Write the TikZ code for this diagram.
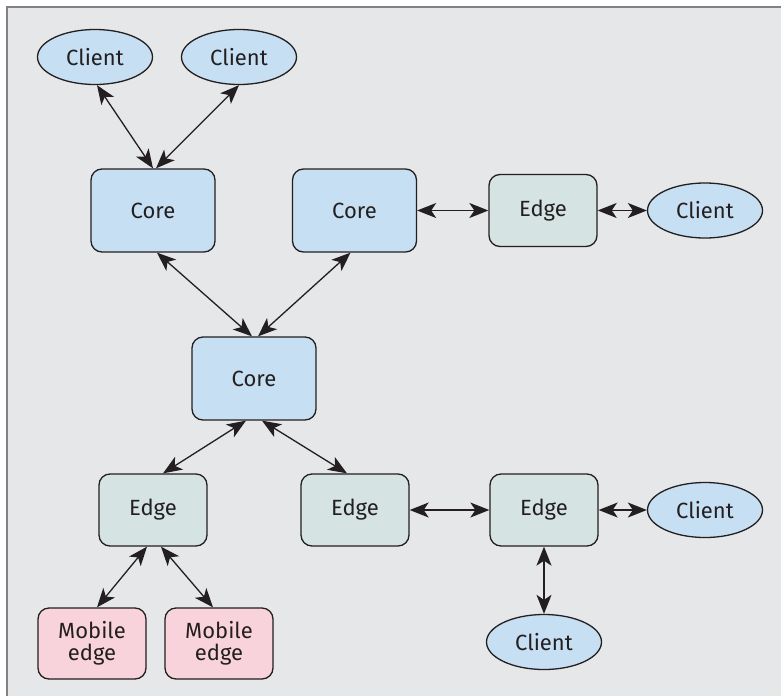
\documentclass[tikz,border=0pt]{standalone}
\usepackage{fontspec}
\setmainfont{Fira Sans}
\usetikzlibrary{shapes.geometric,arrows.meta}
\definecolor{bgray}{HTML}{E6E7E9}
\definecolor{framegray}{HTML}{808285}
\definecolor{ink}{HTML}{231F20}
\definecolor{coreblue}{HTML}{C7DFF3}
\definecolor{edgegreen}{HTML}{D5E4E2}
\definecolor{mobpink}{HTML}{F9D3DB}
\tikzset{
  base/.style={draw=ink, line width=1.3pt, text=ink, font=\fontsize{22}{22}\selectfont,
    inner sep=0pt, align=center},
  corebox/.style={base, rectangle, rounded corners=11pt, fill=coreblue,
    minimum width=124pt, minimum height=83pt},
  edgebox/.style={base, rectangle, rounded corners=11pt, fill=edgegreen,
    minimum width=108pt, minimum height=72pt},
  mobbox/.style={base, rectangle, rounded corners=11pt, fill=mobpink,
    minimum width=108pt, minimum height=71pt},
  client/.style={base, ellipse, fill=coreblue, minimum width=115pt, minimum height=55pt},
  link/.style={draw=ink, line width=1.3pt,
    {Stealth[length=19pt,width=15pt,inset=5pt]}-{Stealth[length=19pt,width=15pt,inset=5pt]}}
}
\begin{document}
\begin{tikzpicture}[x=1pt,y=-1pt]
  \useasboundingbox (0,0) rectangle (781,696);
  \fill[white] (0,0) rectangle (781,696);
  \fill[bgray] (7,7) rectangle (781,696);
  \draw[framegray, line width=2pt] (7,696) -- (7,7) -- (781,7);

  % nodes
  \node[client]  (c1)    at (95,57)    {Client};
  \node[client]  (c2)    at (239,57)   {Client};
  \node[corebox] (core1) at (153,210.5) {Core};
  \node[corebox] (core2) at (354.5,210.5) {Core};
  \node[edgebox] (e1)    at (543,210.5) {Edge};
  \node[client]  (c3)    at (705,210.5) {Client};
  \node[corebox] (core0) at (254,378.5) {Core};
  \node[edgebox] (e2)    at (153,510)  {Edge};
  \node[edgebox] (e3)    at (355,510)  {Edge};
  \node[edgebox] (e4)    at (544,510)  {Edge};
  \node[client]  (c4)    at (705,510)  {Client};
  \node[client]  (c5)    at (544,642)  {Client};
  \node[mobbox]  (m1)    at (92,643.5) {Mobile\\edge};
  \node[mobbox]  (m2)    at (219,643.5) {Mobile\\edge};

  % links
  \draw[link] ([xshift=2pt]c1.south) -- (core1.north);
  \draw[link] (c2.south) -- ([xshift=3pt]core1.north);
  \draw[link] ([xshift=4pt]core1.south) -- ([xshift=-2pt]core0.north);
  \draw[link] ([xshift=-4pt]core2.south) -- ([xshift=4pt]core0.north);
  \draw[link] (core2.east) -- (e1.west);
  \draw[link] (e1.east) -- (c3.west);
  \draw[link] ([xshift=-8pt]core0.south) -- ([xshift=10pt]e2.north);
  \draw[link] ([xshift=8pt]core0.south) -- ([xshift=-8pt]e3.north);
  \draw[link] (e3.east) -- (e4.west);
  \draw[link] (e4.east) -- (c4.west);
  \draw[link] (e4.south) -- (c5.north);
  \draw[link] ([xshift=-6pt]e2.south) -- ([xshift=5pt]m1.north);
  \draw[link] ([xshift=8pt]e2.south) -- ([xshift=-6pt]m2.north);
\end{tikzpicture}
\end{document}
